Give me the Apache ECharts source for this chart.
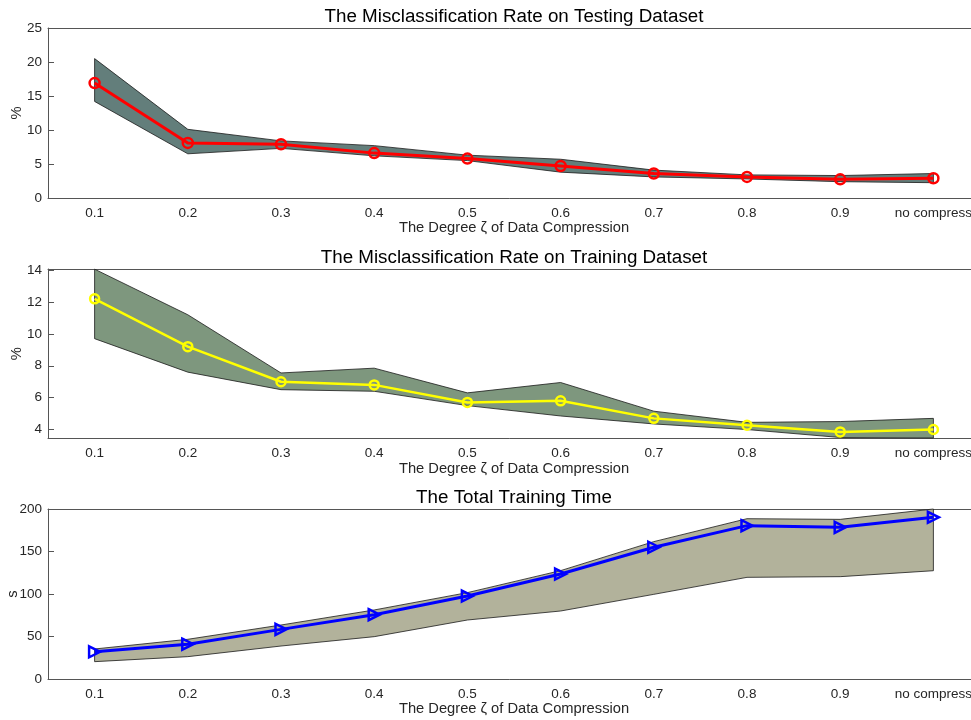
<!DOCTYPE html>
<html>
<head>
<meta charset="utf-8">
<script src="https://cdn.jsdelivr.net/npm/echarts@6/dist/echarts.min.js"></script>
<style>html,body{margin:0;padding:0;background:#fff;}#c{width:971px;height:720px;}</style>
</head>
<body>
<div id="c"></div>
<script>
var categories = ['0.1','0.2','0.3','0.4','0.5','0.6','0.7','0.8','0.9','no compress'];

var testMean  = [16.9, 8.1, 7.9, 6.6, 5.8, 4.7, 3.6, 3.1, 2.75, 2.9];
var testUpper = [20.5, 10.1, 8.4, 7.7, 6.3, 5.7, 4.1, 3.4, 3.3, 3.6];
var testLower = [14.2, 6.5, 7.3, 6.2, 5.5, 3.8, 3.1, 2.8, 2.4, 2.25];

var trainMean  = [12.2, 9.2, 7.0, 6.8, 5.7, 5.8, 4.7, 4.27, 3.85, 4.0];
var trainUpper = [14.06, 11.2, 7.55, 7.85, 6.3, 6.95, 5.15, 4.45, 4.5, 4.7];
var trainLower = [9.7, 7.6, 6.5, 6.4, 5.5, 4.85, 4.35, 4.0, 3.5, 3.47];

var timeMean  = [32, 41, 58.4, 75.7, 97.6, 123.5, 155, 180.4, 178.4, 190.2];
var timeUpper = [35.3, 46.7, 63.5, 81.2, 101.6, 127.5, 161.6, 188.6, 187.8, 200];
var timeLower = [20.4, 26.3, 38.8, 49.8, 69.4, 80, 99.6, 119.6, 120.4, 127.4];

var titles = ['The Misclassification Rate on Testing Dataset','The Misclassification Rate on Training Dataset','The Total Training Time'];
var xName = 'The Degree \u03b6 of Data Compression';
var yNames = ['%','%','s'];
var yTicks1 = [0,5,10,15,20,25];
var yTicks2 = [4,6,8,10,12,14];
var yTicks3 = [0,50,100,150,200];

var FONT = "'Liberation Sans', Arial, Helvetica, sans-serif";
var axisCol = '#555555';
var txtCol = '#262626';

var grids = [
  {left:48, right:-9, top:28, height:170, outerBoundsMode:'none', containLabel:false},
  {left:48, right:-9, top:269, height:169.3, outerBoundsMode:'none', containLabel:false},
  {left:48, right:-9, top:509, height:170, outerBoundsMode:'none', containLabel:false}
];
var yRanges = [[0,25,yTicks1],[3.45,14.07,yTicks2],[0,200,yTicks3]];
var yGaps = [24, 24, 28];

var xAxes = [], yAxes = [], titleArr = [], series = [];
for (var g = 0; g < 3; g++) {
  xAxes.push({
    type:'category', gridIndex:g, data:categories, boundaryGap:true, position:'bottom',
    name:xName, nameLocation:'middle', nameGap:22,
    nameTextStyle:{fontFamily:FONT, fontSize:14.7, color:txtCol},
    axisLine:{lineStyle:{color:axisCol, width:1}},
    axisTick:{inside:true, alignWithLabel:true, interval:0, length:6, lineStyle:{color:axisCol}},
    axisLabel:{fontFamily:FONT, fontSize:13.5, color:txtCol, margin:8, interval:0, hideOverlap:false},
    splitLine:{show:false}
  });
}
for (var g = 0; g < 3; g++) {
  xAxes.push({
    type:'category', gridIndex:g, data:categories, boundaryGap:true, position:'top',
    axisLine:{lineStyle:{color:axisCol, width:1}},
    axisTick:{inside:true, alignWithLabel:true, interval:0, length:6, lineStyle:{color:axisCol}},
    axisLabel:{show:false}, splitLine:{show:false}
  });
}
for (var g = 0; g < 3; g++) {
  var r = yRanges[g];
  yAxes.push({
    type:'value', gridIndex:g, min:r[0], max:r[1],
    name:yNames[g], nameLocation:'middle', nameGap:yGaps[g], nameRotate:90, nameMoveOverlap:false,
    nameTextStyle:{fontFamily:FONT, fontSize:14.7, color:txtCol},
    axisLine:{show:true, lineStyle:{color:axisCol, width:1}},
    axisTick:{show:true, inside:true, length:6, customValues:r[2], lineStyle:{color:axisCol}},
    axisLabel:{fontFamily:FONT, fontSize:13.5, color:txtCol, margin:6, customValues:r[2]},
    splitLine:{show:false}
  });
  titleArr.push({
    text:titles[g], left:509, textAlign:'center', top:grids[g].top - 26,
    textStyle:{fontFamily:FONT, fontSize:18.8, fontWeight:'normal', color:'#000'}
  });
}

function band(g, lo, hi, fill) {
  return {
    type:'custom', xAxisIndex:g, yAxisIndex:g, z:1,
    data: categories.map(function(c,i){ return [i, lo[i], hi[i]]; }),
    encode:{x:0, y:[1,2]},
    renderItem:function(params, api){
      if (params.dataIndex !== 0) return;
      var pts = [];
      for (var i = 0; i < hi.length; i++) pts.push(api.coord([i, hi[i]]));
      for (var j = lo.length - 1; j >= 0; j--) pts.push(api.coord([j, lo[j]]));
      return {type:'polygon', shape:{points:pts}, style:{fill:fill, stroke:'#1a1a1a', lineWidth:0.8}};
    },
    silent:true, animation:false
  };
}
function meanLine(g, data, col, symbol, size, lw) {
  return {
    type:'line', xAxisIndex:g, yAxisIndex:g, z:3, data:data,
    symbol:symbol, symbolSize:size, showAllSymbol:true,
    lineStyle:{color:col, width:lw},
    itemStyle:{color:'rgba(0,0,0,0)', borderColor:col, borderWidth:2.5},
    animation:false
  };
}
series.push(band(0, testLower, testUpper, '#637e7b'));
series.push(band(1, trainLower, trainUpper, '#7e977e'));
series.push(band(2, timeLower, timeUpper, '#b2b29b'));
series.push(meanLine(0, testMean, '#ff0000', 'circle', 10, 3));
series.push(meanLine(1, trainMean, '#ffff00', 'circle', 9, 2.5));
series.push(meanLine(2, timeMean, '#0000ff', 'path://M0,0L10,5L0,10Z', 11, 3));

var chart = echarts.init(document.getElementById('c'), null, {renderer:'canvas'});
chart.setOption({
  backgroundColor:'#ffffff',
  animation:false,
  title:titleArr,
  grid:grids,
  xAxis:xAxes,
  yAxis:yAxes,
  series:series
});
</script>
</body>
</html>
